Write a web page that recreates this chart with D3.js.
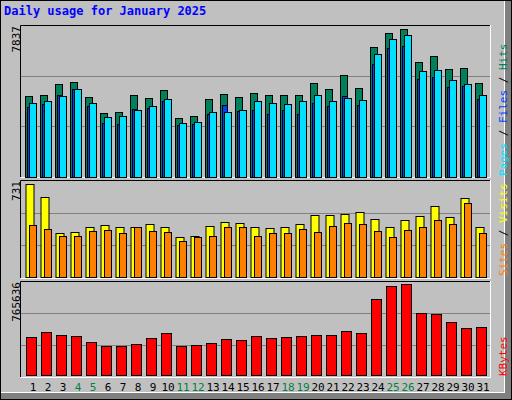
<!DOCTYPE html>
<html><head><meta charset="utf-8">
<script src="https://cdn.jsdelivr.net/npm/d3@7"></script>
<style>body{margin:0;background:#fff}</style>
</head><body>
<script>
var days = d3.range(1, 32);
var weekends = [4, 5, 11, 12, 18, 19, 25, 26];
var hits = [4270,4323,4909,5015,4217,3365,3418,4323,4163,4589,3099,3205,4110,4376,4217,4430,4323,4323,4323,4962,4643,5388,4696,6879,7624,7837,6080,6400,5707,5761,4962];
var files = [3897,4004,4270,4643,3897,3152,3205,3525,3737,4110,2832,2886,3418,3418,3525,4004,3897,3844,4004,4323,4004,4163,4057,6506,7305,7517,5601,5654,5122,4909,4323];
var pages = [3684,3844,4323,4643,3737,2832,2779,3578,3631,4004,2726,2779,3312,3791,3471,3525,3354,3525,3354,3897,3737,4270,3791,5974,6826,6932,5175,5282,4749,4802,4110];
var visits = [731,634,341,349,389,412,389,396,420,389,317,325,404,436,428,389,381,389,420,484,484,492,515,452,389,444,476,555,468,626,396];
var sites = [412,373,325,325,357,365,341,396,357,349,278,317,325,389,389,325,341,341,373,349,404,428,420,357,317,365,389,444,420,579,341];
var kbytes = [319713,361781,336540,328127,277646,243992,243992,260819,311300,353368,243992,252405,269232,302886,294473,328127,311300,319713,328127,336540,336540,370194,353368,639426,748802,765636,521637,513224,445916,395435,403848];

var W = 512, H = 400;
var svg = d3.select("body").append("svg").attr("width", W).attr("height", H)
  .style("font-family", "'DejaVu Sans Mono', monospace");

// frame
svg.append("rect").attr("width", W).attr("height", H).attr("fill", "#c0c0c0");
svg.append("rect").attr("x", 505).attr("y", 0).attr("width", 7).attr("height", H).attr("fill", "#808080");
svg.append("rect").attr("x", 0).attr("y", 393).attr("width", W).attr("height", 7).attr("fill", "#808080");
svg.append("rect").attr("x", 0.5).attr("y", 0.5).attr("width", 504).attr("height", 392)
  .attr("fill", "none").attr("stroke", "#fff");
svg.append("rect").attr("x", 0.5).attr("y", 0.5).attr("width", W - 1).attr("height", H - 1)
  .attr("fill", "none").attr("stroke", "#000");

svg.append("text").attr("x", 4).attr("y", 15).attr("fill", "#0000ff")
  .attr("font-weight", "bold").attr("font-size", 12).text("Daily usage for January 2025");

var x = d3.scaleBand().domain(days).range([22, 487]);

function panel(top, bottom, maxLabel) {
  var g = svg.append("g");
  g.append("rect").attr("x", 20).attr("y", top).attr("width", 470).attr("height", bottom - top).attr("fill", "#c0c0c0");
  [1, 2].forEach(function (k) {
    var yy = Math.round(bottom - (bottom - top) * k / 3) + 0.5;
    g.append("line").attr("x1", 21).attr("x2", 490).attr("y1", yy).attr("y2", yy).attr("stroke", "#808080");
  });
  g.append("path").attr("d", "M20.5," + bottom + "V" + (top + 0.5) + "H490").attr("fill", "none").attr("stroke", "#000");
  g.append("path").attr("d", "M20.5," + (bottom + 0.5) + "H490.5V" + top).attr("fill", "none").attr("stroke", "#fff");
  g.append("text").attr("transform", "translate(20," + (top + 1) + ") rotate(-90)")
    .attr("text-anchor", "end").attr("font-size", 11).attr("fill", "#000").text(maxLabel);
  return g;
}

function bars(g, data, y, dx, w, color) {
  g.selectAll(null).data(data).enter().append("rect")
    .attr("x", function (d, i) { return x(days[i]) + dx + 0.5; })
    .attr("y", function (d) { return Math.round(y(d)) + 0.5; })
    .attr("width", w)
    .attr("height", function (d) { return Math.round(y(0)) - Math.round(y(d)); })
    .attr("fill", color).attr("stroke", "#000");
}

function sideLabel(bottom, parts) {
  var t = svg.append("text").attr("transform", "translate(507," + bottom + ") rotate(-90)")
    .attr("font-size", 11);
  parts.forEach(function (p) { t.append("tspan").attr("fill", p[1]).text(p[0]); });
}

// top: hits / files / pages
var g1 = panel(25, 177, "7837");
var y1 = d3.scaleLinear().domain([0, 7837]).range([176.5, 29.3]);
bars(g1, hits, y1, 3, 7, "#00805c");
bars(g1, pages, y1, 5, 5, "#0040ff");
bars(g1, files, y1, 7, 7, "#00e0ff");
sideLabel(176, [["Pages", "#00e0ff"], [" / ", "#000"], ["Files", "#0040ff"], [" / ", "#000"], ["Hits", "#00805c"]]);

// middle: visits / sites
var g2 = panel(180, 278, "731");
var y2 = d3.scaleLinear().domain([0, 731]).range([276.5, 184.3]);
bars(g2, visits, y2, 3.5, 8, "#ffff00");
bars(g2, sites, y2, 7, 7, "#ff8000");
sideLabel(276, [["Sites", "#ff8000"], [" / ", "#000"], ["Visits", "#ffff00"]]);

// bottom: kbytes
var g3 = panel(281, 377, "765636");
var y3 = d3.scaleLinear().domain([0, 765636]).range([375.3, 284.3]);
bars(g3, kbytes, y3, 4, 10, "#ff0000");
sideLabel(376, [["KBytes", "#ff0000"]]);

// day labels
svg.selectAll(null).data(days).enter().append("text")
  .attr("x", function (d) { return x(d) + 11; })
  .attr("y", 391).attr("text-anchor", "middle").attr("font-size", 11)
  .attr("fill", function (d) { return weekends.indexOf(d) >= 0 ? "#008040" : "#000"; })
  .text(function (d) { return d; });
</script>
</body></html>
